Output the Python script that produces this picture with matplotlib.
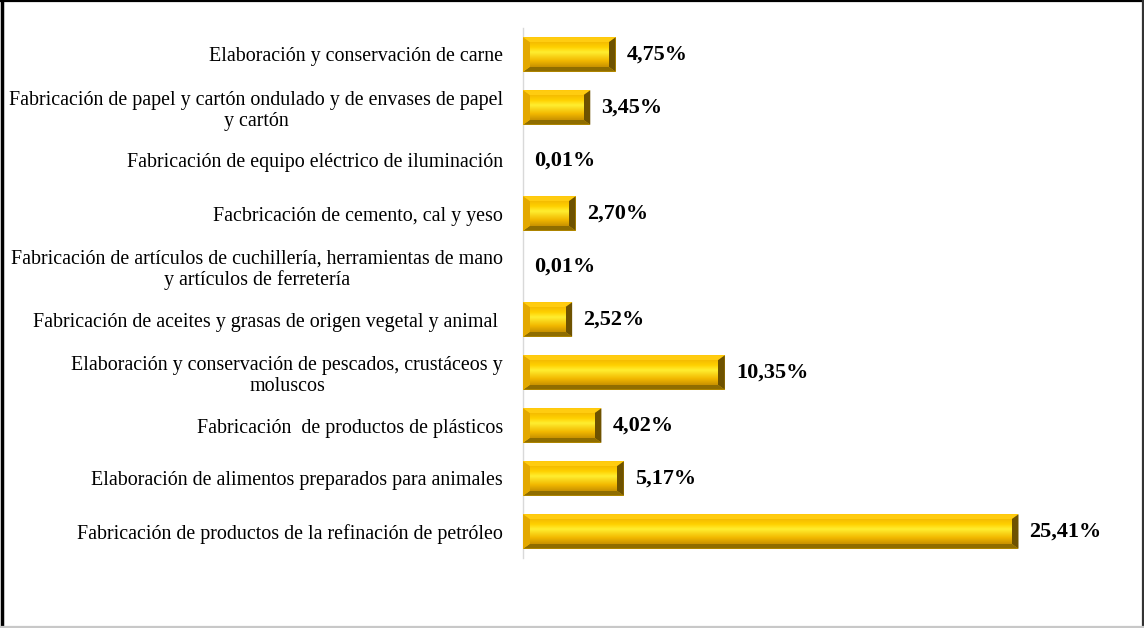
import numpy as np
import matplotlib
matplotlib.use("Agg")
import matplotlib.pyplot as plt
from matplotlib.colors import LinearSegmentedColormap
from matplotlib.patches import Polygon
from matplotlib.lines import Line2D

# Categories listed bottom to top
categories = [
    "Fabricación de productos de la refinación de petróleo",
    "Elaboración de alimentos preparados para animales",
    "Fabricación  de productos de plásticos",
    "Elaboración y conservación de pescados, crustáceos y\nmoluscos",
    "Fabricación de aceites y grasas de origen vegetal y animal ",
    "Fabricación de artículos de cuchillería, herramientas de mano\ny artículos de ferretería",
    "Facbricación de cemento, cal y yeso",
    "Fabricación de equipo eléctrico de iluminación",
    "Fabricación de papel y cartón ondulado y de envases de papel\ny cartón",
    "Elaboración y conservación de carne",
]
values = [25.41, 5.17, 4.02, 10.35, 2.52, 0.01, 2.70, 0.01, 3.45, 4.75]

serif = ["Liberation Serif", "DejaVu Serif"]
plt.rcParams["font.family"] = serif

W, H, DPI = 1144, 628, 100
fig = plt.figure(figsize=(W / DPI, H / DPI), dpi=DPI)

ax_left, ax_right = 523, 1108
ax_top, ax_bottom = 28, 558
ax = fig.add_axes([ax_left / W, 1 - ax_bottom / H,
                   (ax_right - ax_left) / W, (ax_bottom - ax_top) / H])
xmax = 30
ax.set_xlim(0, xmax)
ax.set_ylim(-0.5, len(values) - 0.5)

ypos = np.arange(len(values))
bar_h = 0.65

# Base bars
bars = ax.barh(ypos, values, height=bar_h, color="#FFC400", edgecolor="none", zorder=2)

# Bevel look: gradient face plus shaded edges
face_cmap = LinearSegmentedColormap.from_list(
    "face", [(0.0, "#C99200"), (0.25, "#F2B800"), (0.6, "#FFEE30"),
             (0.8, "#FFD000"), (1.0, "#F5BC00")])
px_x = xmax / (ax_right - ax_left)
px_y = (len(values)) / (ax_bottom - ax_top)
bx = 7 * px_x
by = 5 * px_y
grad = np.linspace(0, 1, 64).reshape(-1, 1)
for y, v in zip(ypos, values):
    if v < 2.5 * bx:
        continue
    y0, y1 = y - bar_h / 2, y + bar_h / 2
    # top edge (lighter)
    ax.add_patch(Polygon([(0, y1), (v, y1), (v - bx, y1 - by), (bx, y1 - by)],
                         closed=True, facecolor="#FFCC10", edgecolor="none", zorder=4))
    # bottom edge (dark)
    ax.add_patch(Polygon([(0, y0), (v, y0), (v - bx, y0 + by), (bx, y0 + by)],
                         closed=True, facecolor="#8F6D00", edgecolor="none", zorder=4))
    # left edge
    ax.add_patch(Polygon([(0, y0), (0, y1), (bx, y1 - by), (bx, y0 + by)],
                         closed=True, facecolor="#E3A800", edgecolor="none", zorder=4))
    # right edge (darkest)
    ax.add_patch(Polygon([(v, y0), (v, y1), (v - bx, y1 - by), (v - bx, y0 + by)],
                         closed=True, facecolor="#6E5200", edgecolor="none", zorder=4))
    # inner face
    ax.imshow(grad, cmap=face_cmap, aspect="auto", origin="lower",
              extent=(bx, v - bx, y0 + by, y1 - by), zorder=5, interpolation="bilinear")

# Value labels
for y, v in zip(ypos, values):
    txt = f"{v:.2f}".replace(".", ",") + "%"
    ax.annotate(txt, xy=(v, y), xytext=(8, 0), textcoords="offset points",
                ha="left", va="center", fontsize=16, fontweight="bold",
                family=serif, color="black", zorder=6)

ax.set_yticks(ypos)
ax.set_yticklabels(categories, fontsize=14.4, multialignment="center", linespacing=1.12)
ax.tick_params(axis="y", length=0, pad=14.4)
ax.tick_params(axis="x", bottom=False, labelbottom=False)
for s in ["top", "right", "bottom"]:
    ax.spines[s].set_visible(False)
ax.spines["left"].set_color("#D9D9D9")
ax.spines["left"].set_linewidth(1.0)
ax.spines["left"].set_zorder(1)

# Frame around the figure
fig.add_artist(Line2D([1.5 / W, 1.5 / W], [0, 1], color="black", lw=2.5, transform=fig.transFigure))
fig.add_artist(Line2D([0, 1], [1 - 1 / H, 1 - 1 / H], color="black", lw=1.6, transform=fig.transFigure))
fig.add_artist(Line2D([1 - 1.5 / W, 1 - 1.5 / W], [0, 1], color="#333333", lw=1.6, transform=fig.transFigure))
fig.add_artist(Line2D([0, 1], [1 / H, 1 / H], color="#C8C8C8", lw=1.6, transform=fig.transFigure))

fig.savefig("out.png", dpi=DPI)
